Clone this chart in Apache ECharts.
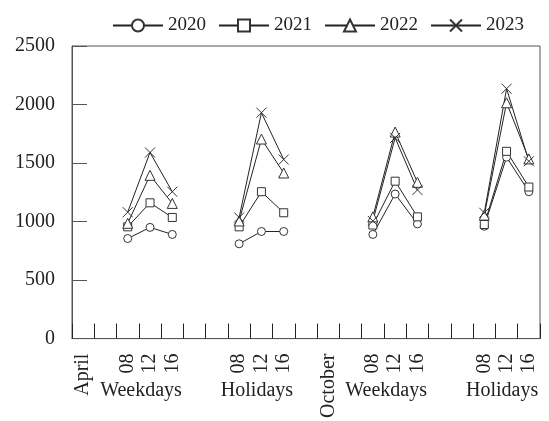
<!DOCTYPE html>
<html>
<head>
<meta charset="utf-8">
<script src="https://cdn.jsdelivr.net/npm/echarts@6/dist/echarts.min.js"></script>
<style>
  html, body { margin: 0; padding: 0; background: #fff; }
  #chart { width: 549px; height: 421px; }
</style>
</head>
<body>
<div id="chart"></div>
<script>
// Hour-of-day categories with month markers and spacer slots
var categories = ['April', '', '08', '12', '16', '', '', '08', '12', '16', '', 'October', '', '08', '12', '16', '', '', '08', '12', '16'];
// Day-type captions placed under the middle hour of each group
var groupLabels = ['', '', '', 'Weekdays', '', '', '', '', 'Holidays', '', '', '', '', '', 'Weekdays', '', '', '', '', 'Holidays', ''];

var years = ['2020', '2021', '2022', '2023'];
var s2020 = [null, null, 855, 950, 890, null, null, 810, 915, 915, null, null, null, 890, 1235, 980, null, null, 960, 1550, 1255];
var s2021 = [null, null, 955, 1160, 1035, null, null, 955, 1255, 1075, null, null, null, 970, 1345, 1040, null, null, 975, 1600, 1295];
var s2022 = [null, null, 985, 1395, 1155, null, null, 1005, 1705, 1415, null, null, null, 1040, 1765, 1335, null, null, 1055, 2015, 1535];
var s2023 = [null, null, 1080, 1590, 1255, null, null, 1035, 1930, 1530, null, null, null, 1005, 1715, 1270, null, null, 1075, 2135, 1515];

var yTicks = { min: 0, max: 2500, interval: 500 };

var FONT = '"Liberation Serif", "DejaVu Serif", serif';
var INK = '#222';
var MARK = '#333';
var AXIS = '#555';

// Open markers: white fill with a thin outline; the cross is a stroked path
var symbols = ['circle', 'rect', 'triangle', 'path://M0,0L10,10M10,0L0,10'];
var sizes = [8, 8, 10, 10];
var values = [s2020, s2021, s2022, s2023];

var series = years.map(function (name, i) {
  return {
    name: name,
    type: 'line',
    data: values[i],
    connectNulls: false,
    symbol: symbols[i],
    symbolSize: sizes[i],
    showAllSymbol: true,
    lineStyle: { color: INK, width: 1 },
    itemStyle: { color: '#fff', borderColor: MARK, borderWidth: 1 },
    emphasis: { disabled: true },
    animation: false
  };
});

var chart = echarts.init(document.getElementById('chart'), null, { renderer: 'canvas' });
chart.setOption({
  animation: false,
  backgroundColor: '#fff',
  textStyle: { fontFamily: FONT, color: INK },
  legend: {
    data: years,
    left: 107,
    top: 11,
    itemWidth: 50,
    itemHeight: 15,
    itemGap: 12,
    textStyle: { fontFamily: FONT, fontSize: 19, color: INK },
    selectedMode: false
  },
  grid: {
    left: 72,
    right: 9,
    top: 46,
    bottom: 79,
    show: true,
    borderColor: AXIS,
    borderWidth: 1,
    containLabel: false
  },
  xAxis: [
    {
      type: 'category',
      data: categories,
      position: 'bottom',
      boundaryGap: true,
      axisLine: { show: true, lineStyle: { color: AXIS, width: 1 } },
      axisTick: { show: true, inside: true, length: 15, interval: 0, lineStyle: { color: INK } },
      axisLabel: {
        interval: 0,
        rotate: 90,
        margin: 15,
        fontFamily: FONT,
        fontSize: 20,
        color: INK
      },
      splitLine: { show: false }
    },
    {
      type: 'category',
      data: groupLabels,
      position: 'bottom',
      offset: 0,
      boundaryGap: true,
      axisLine: { show: false },
      axisTick: { show: false },
      axisLabel: {
        interval: 0,
        margin: 42,
        fontFamily: FONT,
        fontSize: 20,
        color: INK,
        formatter: function (v) {
          if (v === 'Weekdays') return '{w|' + v + '}';
          if (v === 'Holidays') return '{h|' + v + '}';
          return '';
        },
        rich: {
          w: { fontFamily: FONT, fontSize: 20, color: INK, padding: [0, 18, 0, 0] },
          h: { fontFamily: FONT, fontSize: 20, color: INK, padding: [0, 9, 0, 0] }
        }
      },
      splitLine: { show: false }
    }
  ],
  yAxis: {
    type: 'value',
    min: yTicks.min,
    max: yTicks.max,
    interval: yTicks.interval,
    axisLine: { show: true, lineStyle: { color: AXIS, width: 1 } },
    axisTick: { show: true, inside: true, length: 15, lineStyle: { color: AXIS } },
    axisLabel: {
      margin: 17,
      fontFamily: FONT,
      fontSize: 20,
      color: INK,
      formatter: function (v) { return String(v); }
    },
    splitLine: { show: false }
  },
  series: series
});
</script>
</body>
</html>
